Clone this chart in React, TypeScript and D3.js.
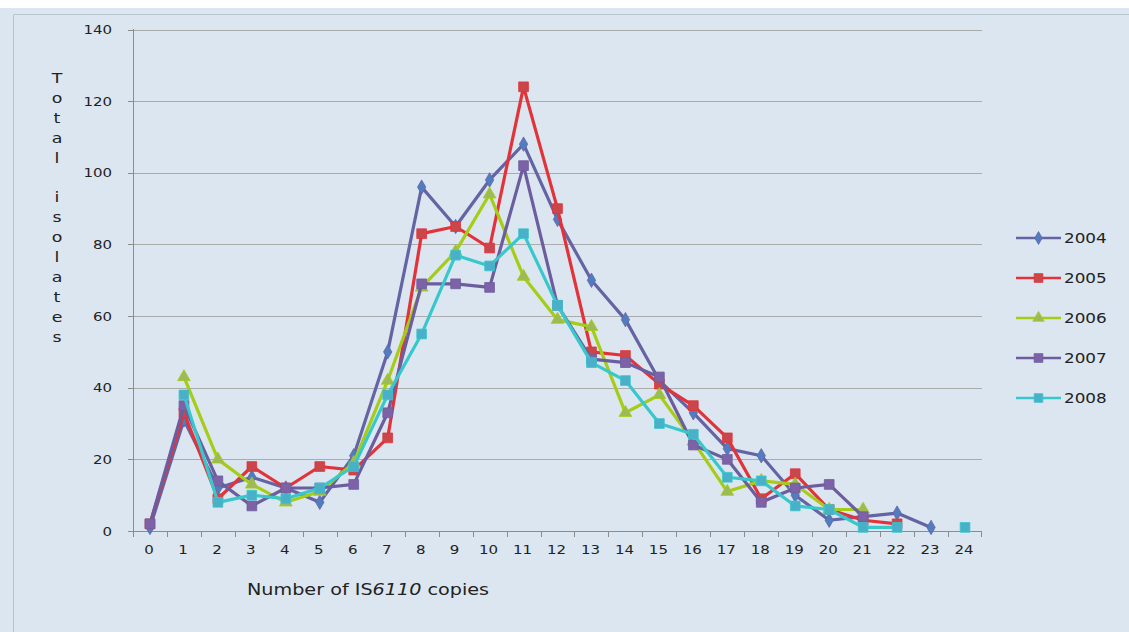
import React from 'react';
import * as d3 from 'd3';

// copies of IS6110 (x categories)
const copies = d3.range(0, 25).map(String);
const yTicks = [0, 20, 40, 60, 80, 100, 120, 140];

type V = number | null;
const s2004: V[] = [1, 31, 12, 15, 12, 8, 21, 50, 96, 85, 98, 108, 87, 70, 59, 42, 33, 23, 21, 10, 3, 4, 5, 1, null];
const s2005: V[] = [2, 33, 9, 18, 12, 18, 17, 26, 83, 85, 79, 124, 90, 50, 49, 41, 35, 26, 9, 16, 6, 3, 2, null, null];
const s2006: V[] = [null, 43, 20, 13, 8, 11, 19, 42, 68, 78, 94, 71, 59, 57, 33, 38, 25, 11, 14, 13, 6, 6, null, null, null];
const s2007: V[] = [2, 35, 14, 7, 12, 12, 13, 33, 69, 69, 68, 102, 63, 48, 47, 43, 24, 20, 8, 12, 13, 4, null, null, null];
const s2008: V[] = [null, 38, 8, 10, 9, 12, 18, 38, 55, 77, 74, 83, 63, 47, 42, 30, 27, 15, 14, 7, 6, 1, 1, null, 1];

const series = [
  { name: '2004', values: s2004, line: '#6464A4', fill: '#4F7DC0', shape: d3.symbolDiamond, size: 60 },
  { name: '2005', values: s2005, line: '#E3333A', fill: '#C9464A', shape: d3.symbolSquare, size: 95 },
  { name: '2006', values: s2006, line: '#A5CC17', fill: '#9DBB55', shape: d3.symbolTriangle, size: 70 },
  { name: '2007', values: s2007, line: '#6C5E9E', fill: '#7D62A8', shape: d3.symbolSquare, size: 95 },
  { name: '2008', values: s2008, line: '#38C8CC', fill: '#4AAFC8', shape: d3.symbolSquare, size: 95 },
];

const W = 1129;
const H = 632;
const FONT = 'DejaVu Sans';
const SX = 1.2; // the source text is stretched wide

const x = d3.scaleBand().domain(copies).range([133, 982]).padding(0);
const y = d3.scaleLinear().domain([0, 140]).range([531, 29.5]);
const cx = (c: string) => (x(c) as number) + x.bandwidth() / 2;

const Txt = ({ x: tx, y: ty, size, anchor = 'start', children }: any) => (
  <text
    transform={`translate(${tx},${ty}) scale(${SX},1)`}
    fontFamily={FONT}
    fontSize={size}
    fill="#222"
    textAnchor={anchor}
  >
    {children}
  </text>
);

export default function App() {
  const yTitle = 'Total isolates'.split('');
  const legendY = (i: number) => 238 + i * 40;

  return (
    <svg width={W} height={H} style={{ position: 'fixed', left: 0, top: 0 }}>
      <rect x={0} y={0} width={W} height={H} fill="#fff" />
      <rect x={0} y={8} width={W} height={H - 8} fill="#DCE6F0" />
      <path d={`M13.5,${H} V14.5 H${W}`} fill="none" stroke="#B9C3CC" strokeWidth={1} />

      {/* gridlines */}
      {yTicks.filter(t => t > 0).map(t => (
        <line key={t} x1={133} x2={982} y1={Math.round(y(t)) + 0.5} y2={Math.round(y(t)) + 0.5} stroke="#ABABAB" />
      ))}

      {/* axes */}
      <line x1={133.5} x2={133.5} y1={29} y2={531} stroke="#8C8C8C" />
      <line x1={133} x2={982} y1={531.5} y2={531.5} stroke="#8C8C8C" />
      {yTicks.map(t => (
        <line key={t} x1={128} x2={133} y1={Math.round(y(t)) + 0.5} y2={Math.round(y(t)) + 0.5} stroke="#8C8C8C" />
      ))}
      {copies.map(c => (
        <line key={c} x1={Math.round(x(c) as number) + 0.5} x2={Math.round(x(c) as number) + 0.5} y1={531} y2={537} stroke="#8C8C8C" />
      ))}
      <line x1={981.5} x2={981.5} y1={531} y2={537} stroke="#8C8C8C" />

      {yTicks.map(t => (
        <Txt key={t} x={112} y={y(t) + 4.5} size={12.5} anchor="end">{t}</Txt>
      ))}
      {copies.map(c => (
        <Txt key={c} x={cx(c) - 1} y={554} size={12.5} anchor="middle">{c}</Txt>
      ))}

      {yTitle.map((ch, i) => (
        <Txt key={i} x={57} y={83 + i * 19.9} size={14.5} anchor="middle">{ch}</Txt>
      ))}
      <Txt x={247} y={595} size={16}>
        Number of IS<tspan fontStyle="italic">6110</tspan> copies
      </Txt>

      {/* series */}
      {series.map(s => {
        const line = d3.line<V>()
          .defined(v => v !== null)
          .x((_, i) => cx(copies[i]))
          .y(v => y(v as number));
        const sym = d3.symbol().type(s.shape).size(s.size)();
        return (
          <g key={s.name}>
            <path d={line(s.values) || ''} fill="none" stroke={s.line} strokeWidth={3.2} strokeLinejoin="round" />
            {s.values.map((v, i) => v === null ? null : (
              <path key={i} d={sym || ''} transform={`translate(${cx(copies[i])},${y(v)})`} fill={s.fill} stroke={s.line} strokeWidth={0.8} />
            ))}
          </g>
        );
      })}

      {/* legend */}
      {series.map((s, i) => {
        const sym = d3.symbol().type(s.shape).size(s.size * 0.8)();
        return (
          <g key={s.name}>
            <line x1={1016} x2={1061} y1={legendY(i)} y2={legendY(i)} stroke={s.line} strokeWidth={2.5} />
            <path d={sym || ''} transform={`translate(1038.5,${legendY(i)})`} fill={s.fill} stroke={s.line} strokeWidth={0.8} />
            <Txt x={1064} y={legendY(i) + 5} size={14}>{s.name}</Txt>
          </g>
        );
      })}
    </svg>
  );
}
